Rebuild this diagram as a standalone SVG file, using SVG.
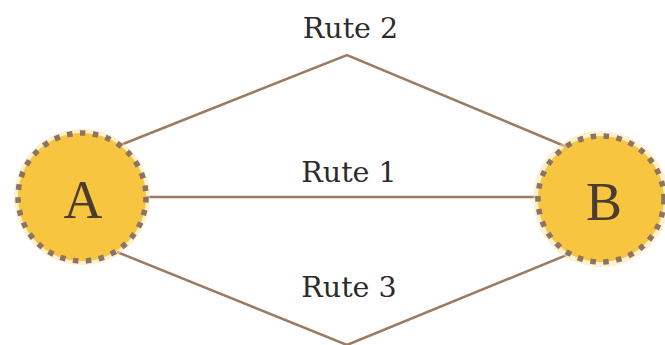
<svg xmlns="http://www.w3.org/2000/svg" width="665" height="345" viewBox="0 0 665 345">
<style>
.route{fill:none;stroke:#9b7b62;stroke-width:2.5;stroke-linejoin:miter}
.node{fill:#f8c540;stroke:#8c7464;stroke-width:5.5;stroke-dasharray:5.5 7.5}
.halo{fill:#fbe3a0;opacity:0.5}
.lbl{font-family:"DejaVu Serif",serif;font-size:28.5px;fill:#2b2b2b;text-anchor:middle}
.big{font-family:"Liberation Serif",serif;font-size:54px;fill:#4a3c30;text-anchor:middle}
</style>
<rect width="665" height="345" fill="#ffffff"/>
<g id="connectors">
<line class="route" x1="146" y1="197" x2="538" y2="197"/>
<polyline class="route" points="118,146 347,55 574,150"/>
<polyline class="route" points="117,252 347,345 574,252"/>
</g>
<g id="label-rute2"><text class="lbl" x="350.5" y="38">Rute 2</text></g>
<g id="label-rute1"><text class="lbl" x="349" y="182">Rute 1</text></g>
<g id="label-rute3"><text class="lbl" x="349" y="297">Rute 3</text></g>
<g id="node-A">
<circle class="halo" cx="82" cy="197" r="68"/>
<circle class="node" cx="82" cy="197" r="64"/>
<text class="big" x="83" y="218">A</text>
</g>
<g id="node-B">
<circle class="halo" cx="601" cy="199" r="68"/>
<circle class="node" cx="601" cy="199" r="63"/>
<text class="big" x="604" y="220">B</text>
</g>
</svg>
